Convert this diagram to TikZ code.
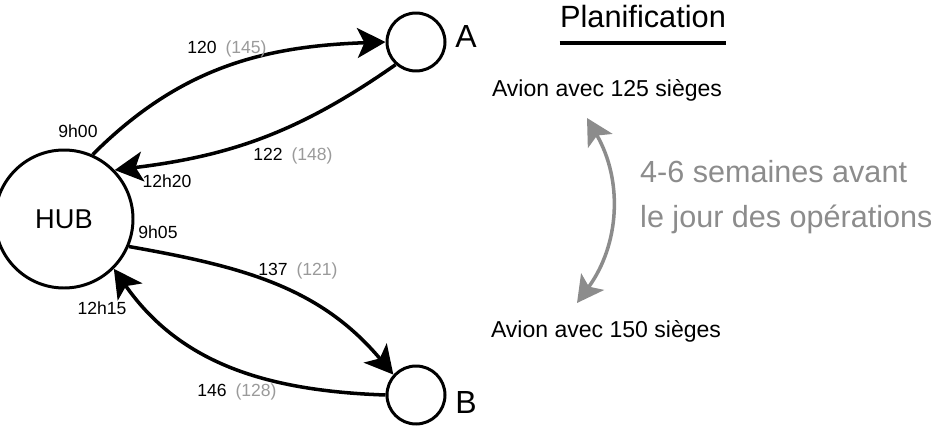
\documentclass[tikz,border=0pt]{standalone}
\usepackage{fontspec}
\setmainfont{Liberation Sans}
\usetikzlibrary{arrows.meta,positioning}
\definecolor{paleGrey}{HTML}{9A9A9A}
\definecolor{midGrey}{HTML}{8C8C8C}

\begin{document}
\begin{tikzpicture}[
  stop/.style={circle,draw,line width=1.7pt,inner sep=0pt},
  leg/.style={line width=2pt,-{Stealth[length=16pt,width=17pt,inset=4pt]}},
  hr/.style={anchor=base,font=\fontsize{10}{12}\selectfont},
  seats/.style={anchor=base,font=\fontsize{13.1}{15}\selectfont},
  span/.style={midGrey,line width=2pt,
    {Stealth[length=15pt,width=16pt,inset=3.5pt]}-{Stealth[length=15pt,width=16pt,inset=3.5pt]}}]
  \useasboundingbox (0,0) rectangle (18.62,8.74);
  % airports
  \node[stop,minimum size=2.76cm,font=\fontsize{15.5}{18}\selectfont] (hub) at (1.28,4.36) {HUB};
  \node[stop,minimum size=1.16cm] (a) at (8.32,7.90) {};
  \node[stop,minimum size=1.16cm] (b) at (8.32,0.84) {};
  \node[anchor=base,font=\fontsize{18.2}{20}\selectfont] (labA) at (9.32,7.78) {A};
  \node[anchor=base,font=\fontsize{18.2}{20}\selectfont] (labB) at (9.32,0.48) {B};
  % flights
  \draw[leg] (hub.66) to[out=45,in=182] (a.west);
  \draw[leg] (a.228) to[out=215,in=7] (hub.44);
  \draw[leg] (hub.-23) to[out=-10,in=130] (b.138);
  \draw[leg] (b.west) to[out=178,in=-55] (hub.-45);
  \node[hr] (dep1) at (1.56,5.98) {9h00};
  \node[hr] (arr1) at (3.34,5.00) {12h20};
  \node[hr] (dep2) at (3.16,3.98) {9h05};
  \node[hr] (arr2) at (2.04,2.46) {12h15};
  \node[hr] (fHA) at (4.54,7.66) {120\enspace\textcolor{paleGrey}{(145)}};
  \node[hr] (fAH) at (5.86,5.52) {122\enspace\textcolor{paleGrey}{(148)}};
  \node[hr] (fHB) at (5.96,3.24) {137\enspace\textcolor{paleGrey}{(121)}};
  \node[hr] (fBH) at (4.74,0.82) {146\enspace\textcolor{paleGrey}{(128)}};
  % planning
  \node[anchor=base,inner xsep=0pt,font=\fontsize{17.5}{20}\selectfont] (plan) at (12.86,8.18) {Planification};
  \draw[line width=2.2pt] ([yshift=-0.3cm]plan.base west) -- ([yshift=-0.3cm]plan.base east);
  \node[seats] (p125) at (12.14,6.80) {Avion avec 125 sièges};
  \node[seats] (p150) at (12.12,2.00) {Avion avec 150 sièges};
  \coordinate (lo) at (11.54,2.68);
  \coordinate (hi) at (11.74,6.38);
  \draw[span] (lo) to[bend right=33] (hi);
  \node[anchor=base west,midGrey,font=\fontsize{17.4}{20}\selectfont] (delay1) at (12.68,5.10) {4-6 semaines avant};
  \node[anchor=base west,midGrey,font=\fontsize{17.4}{20}\selectfont] (delay2) at (12.68,4.20) {le jour des opérations};
\end{tikzpicture}
\end{document}
